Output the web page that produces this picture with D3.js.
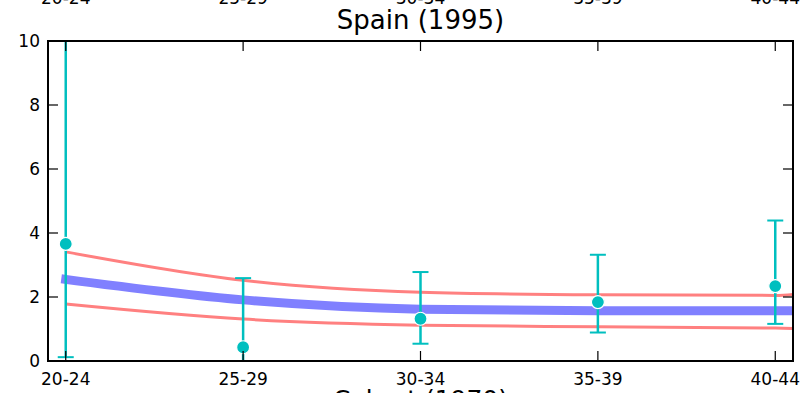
<!DOCTYPE html>
<html>
<head>
<meta charset="utf-8">
<script src="https://cdn.jsdelivr.net/npm/d3@7"></script>
<style>
  body { margin: 0; background: #fff; }
  svg { display: block; font-family: "DejaVu Sans", sans-serif; }
</style>
</head>
<body>
<div id="chart"></div>
<script>
// Data
const cohorts = ["20-24", "25-29", "30-34", "35-39", "40-44"];
const observed = [3.66, 0.43, 1.32, 1.84, 2.34];
const errLow = [0.12, -0.3, 0.54, 0.89, 1.16];
const errHigh = [11.0, 2.59, 2.78, 3.32, 4.39];
// model curves continue a little past the last cohort (clipped at the frame)
const curveX = [0, 1, 2, 3, 4, 4.2];
const fitted = [2.55, 1.91, 1.62, 1.57, 1.57, 1.58];
const upperBand = [3.41, 2.52, 2.15, 2.07, 2.05, 2.14];
const lowerBand = [1.78, 1.31, 1.12, 1.07, 1.03, 1.0];
const yTicks = [0, 2, 4, 6, 8, 10];

const W = 807, H = 393;
const margin = { top: 41, right: 14, bottom: 32, left: 48 };
const width = W - margin.left - margin.right;
const height = H - margin.top - margin.bottom;

const svg = d3.select("#chart").append("svg")
    .attr("width", W)
    .attr("height", H);

const g = svg.append("g")
    .attr("transform", `translate(${margin.left},${margin.top})`);

const x = d3.scaleLinear().domain([-0.1, 4.1]).range([0, width]);
const y = d3.scaleLinear().domain([0, 10]).range([height, 0]);

g.append("clipPath").attr("id", "clip")
    .append("rect").attr("width", width).attr("height", height);

const plot = g.append("g").attr("clip-path", "url(#clip)");

const line = (vals) => d3.line()
    .x((d, i) => x(curveX[i]))
    .y(d => y(d))
    .curve(d3.curveMonotoneX)(vals);

// fitted line (thick blue) and bands (red)
plot.append("path")
    .attr("d", line(fitted))
    .attr("fill", "none")
    .attr("stroke", "#8080ff")
    .attr("stroke-width", 9)
    .attr("stroke-linecap", "square");

[upperBand, lowerBand].forEach(b => {
    plot.append("path")
        .attr("d", line(b))
        .attr("fill", "none")
        .attr("stroke", "#ff8080")
        .attr("stroke-width", 3);
});

// error bars
const cyan = "#00bfbf";
const capW = 8;
cohorts.forEach((c, i) => {
    plot.append("line")
        .attr("x1", x(i)).attr("x2", x(i))
        .attr("y1", y(errLow[i])).attr("y2", y(errHigh[i]))
        .attr("stroke", cyan).attr("stroke-width", 2.5);
    [errLow[i], errHigh[i]].forEach(v => {
        plot.append("line")
            .attr("x1", x(i) - capW).attr("x2", x(i) + capW)
            .attr("y1", y(v)).attr("y2", y(v))
            .attr("stroke", cyan).attr("stroke-width", 2);
    });
});

plot.selectAll("circle.obs")
    .data(observed)
    .enter().append("circle")
    .attr("class", "obs")
    .attr("cx", (d, i) => x(i))
    .attr("cy", d => y(d))
    .attr("r", 6.5)
    .attr("fill", cyan)
    .attr("stroke", "#fff")
    .attr("stroke-width", 1.2);

// ticks (inward, matplotlib style)
const tickLen = 10;
yTicks.forEach(t => {
    g.append("line").attr("x1", 0).attr("x2", tickLen)
        .attr("y1", y(t)).attr("y2", y(t)).attr("stroke", "#000").attr("stroke-width", 1.2);
    g.append("line").attr("x1", width).attr("x2", width - tickLen)
        .attr("y1", y(t)).attr("y2", y(t)).attr("stroke", "#000").attr("stroke-width", 1.2);
    g.append("text")
        .attr("x", -8).attr("y", y(t))
        .attr("dy", "0.36em")
        .attr("text-anchor", "end")
        .attr("font-size", 17)
        .text(t);
});

cohorts.forEach((c, i) => {
    g.append("line").attr("x1", x(i)).attr("x2", x(i))
        .attr("y1", height).attr("y2", height - tickLen).attr("stroke", "#000").attr("stroke-width", 1.2);
    g.append("line").attr("x1", x(i)).attr("x2", x(i))
        .attr("y1", 0).attr("y2", tickLen).attr("stroke", "#000").attr("stroke-width", 1.2);
    g.append("text")
        .attr("x", x(i)).attr("y", height + 24)
        .attr("text-anchor", "middle")
        .attr("font-size", 17)
        .text(c);
    // top tick labels (cut off by the window edge, as in the reference)
    g.append("text")
        .attr("x", x(i)).attr("y", -37)
        .attr("text-anchor", "middle")
        .attr("font-size", 17)
        .text(c);
});

// frame
g.append("rect")
    .attr("width", width).attr("height", height)
    .attr("fill", "none")
    .attr("stroke", "#000")
    .attr("stroke-width", 2);

// title
svg.append("text")
    .attr("x", margin.left + width / 2)
    .attr("y", 29)
    .attr("text-anchor", "middle")
    .attr("font-size", 26)
    .text("Spain (1995)");

// x label (mostly cut off below)
svg.append("text")
    .attr("x", margin.left + width / 2)
    .attr("y", 408)
    .attr("text-anchor", "middle")
    .attr("font-size", 25)
    .text("Cohort (1970)");
</script>
</body>
</html>
